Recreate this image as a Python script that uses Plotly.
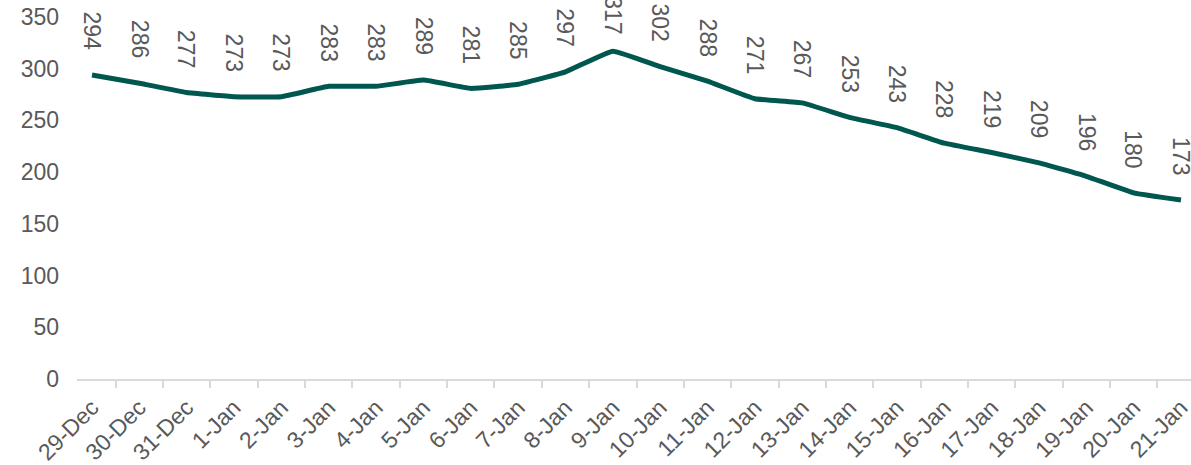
import plotly.graph_objects as go

dates = ["29-Dec", "30-Dec", "31-Dec", "1-Jan", "2-Jan", "3-Jan", "4-Jan", "5-Jan",
         "6-Jan", "7-Jan", "8-Jan", "9-Jan", "10-Jan", "11-Jan", "12-Jan", "13-Jan",
         "14-Jan", "15-Jan", "16-Jan", "17-Jan", "18-Jan", "19-Jan", "20-Jan", "21-Jan"]
values = [294, 286, 277, 273, 273, 283, 283, 289, 281, 285, 297, 317, 302, 288,
          271, 267, 253, 243, 228, 219, 209, 196, 180, 173]

LINE = "#00574F"
GREY = "#595959"
FONT = "Liberation Sans, Arial, sans-serif"

W, H = 1196, 465
ML, MR, MT, MB = 77, 0, 17, 86
YMAX = 350
LABEL_LEN = 39      # approx. pixel length of a rotated 3-digit label
LABEL_GAP = 23      # default gap between point and label

fig = go.Figure()
fig.add_trace(go.Scatter(
    x=dates, y=values, mode="lines",
    line=dict(color=LINE, width=5, shape="spline", smoothing=0.3),
    hoverinfo="x+y", cliponaxis=False,
))

plot_h = H - MT - MB
for d, v in zip(dates, values):
    # like Excel, keep the label from running too far past the top edge
    py = MT + (YMAX - v) / YMAX * plot_h
    shift = max(0, min(LABEL_GAP, py - LABEL_LEN + 3))
    fig.add_annotation(
        x=d, y=v, text=str(v), showarrow=False, textangle=90,
        yanchor="bottom", xanchor="center", yshift=shift,
        font=dict(family=FONT, size=23, color=GREY),
    )

fig.update_layout(
    width=W, height=H,
    margin=dict(l=ML, r=MR, t=MT, b=MB, autoexpand=False),
    paper_bgcolor="white", plot_bgcolor="white",
    showlegend=False,
    font=dict(family=FONT, size=23, color=GREY),
    xaxis=dict(
        type="category", showgrid=False, zeroline=False, automargin=False,
        showline=True, linecolor="#D9D9D9", linewidth=2,
        ticks="outside", tickson="boundaries", ticklen=7, tickcolor="#D9D9D9", tickwidth=2,
        tickangle=-45, ticklabelstandoff=4, ticklabeloverflow="allow",
        tickfont=dict(family=FONT, size=23, color=GREY),
    ),
    yaxis=dict(
        range=[0, YMAX], dtick=50, showgrid=False, zeroline=False, automargin=False,
        showline=False, ticks="", ticklabelstandoff=17, ticklabeloverflow="allow",
        tickfont=dict(family=FONT, size=23, color=GREY),
    ),
)

fig.write_html(
    "out.html",
    config={"displayModeBar": False},
    post_script="document.body.style.margin='0';document.body.style.overflow='hidden';",
)
